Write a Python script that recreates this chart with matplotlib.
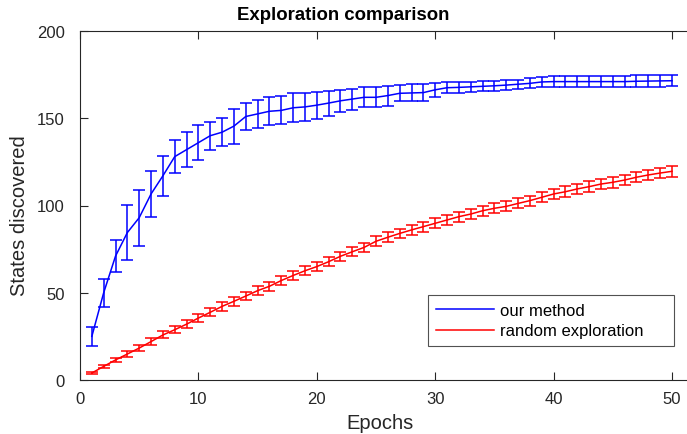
import numpy as np
import matplotlib
matplotlib.use("Agg")
import matplotlib.pyplot as plt
from matplotlib.lines import Line2D

# ── Data ─────────────────────────────────────────────────
epochs = np.arange(1, 51)

ours_mean = [25, 50, 71, 84.5, 93, 106.6, 117, 128, 132, 136,
             140, 142, 145.5, 151, 152.5, 154, 154.5, 156, 156.5, 157.5,
             158.7, 160, 161, 162, 162, 163, 164.3, 164.5, 164.7, 166.3,
             167.5, 167.7, 168, 168.3, 168.6, 169, 169.5, 170, 170.8, 171,
             171, 171, 171, 171, 171, 171, 171.2, 171.3, 171.4, 171.5]
ours_err = [5.3, 8, 9, 16, 16, 13, 11.5, 9.5, 10, 10,
            8, 8, 10, 7.5, 8, 8, 8, 8.3, 8, 7.8,
            7.2, 6.4, 6, 5.7, 5.8, 5.7, 4.7, 4.9, 5.1, 3.9,
            3.2, 3, 2.9, 2.8, 2.7, 2.8, 2.7, 2.9, 3.1, 3.2,
            3.2, 3.2, 3.2, 3.2, 3.2, 3.3, 3.3, 3.3, 3.3, 3.3]

rand_mean = [4, 7.8, 11.5, 14.9, 18.3, 22, 25.8, 28.8, 32, 35.5,
             38.8, 42.2, 45.1, 48.1, 51.2, 53.7, 57, 59.9, 62.6, 65,
             67.8, 70.9, 73.5, 76, 79.5, 81.8, 84, 86, 87.9, 89.8,
             91.7, 93.6, 95.1, 97, 98.4, 99.5, 101.2, 102.8, 104.7, 106.6,
             107.9, 109.5, 110.8, 112.3, 113.3, 114.6, 116.2, 117.5, 118.6, 119.6]
rand_err = [0.6, 1.0, 1.3, 1.5, 1.7, 1.9, 2.0, 2.1, 2.2, 2.3,
            2.4, 2.4, 2.5, 2.5, 2.5, 2.6, 2.6, 2.6, 2.6, 2.7,
            2.7, 2.7, 2.7, 2.7, 2.8, 2.8, 2.8, 2.8, 2.8, 2.8,
            2.8, 2.8, 2.9, 2.9, 2.9, 2.9, 2.9, 2.9, 2.9, 2.9,
            3.0, 3.0, 3.0, 3.0, 3.0, 3.0, 3.0, 3.0, 3.0, 3.0]

series_names = ['our method', 'random exploration']
series_colors = ['#0000ff', '#ff0000']

x_ticks = [0, 10, 20, 30, 40, 50]
y_ticks = [0, 50, 100, 150, 200]

# ── Style ────────────────────────────────────────────────
plt.rcParams['font.family'] = ['Liberation Sans', 'DejaVu Sans']
axis_color = '#262626'
W, H = 687, 435

fig = plt.figure(figsize=(W / 100, H / 100), dpi=100)
x_px_per_unit = 11.84
ax = fig.add_axes([80 / W, 1 - 381 / H, 52 * x_px_per_unit / W, 349 / H])

for mean, err, name, col in zip([ours_mean, rand_mean], [ours_err, rand_err],
                                series_names, series_colors):
    ax.errorbar(epochs, mean, yerr=err, color=col, linewidth=1.1,
                elinewidth=1.1, capsize=4.3, capthick=1.1)

ax.set_xlim(0, 52)
ax.set_ylim(0, 200)
ax.set_xticks(x_ticks)
ax.set_yticks(y_ticks)
ax.tick_params(direction='in', length=6, width=0.8, top=True, right=True,
               labelsize=12, colors=axis_color)
ax.tick_params(axis='x', pad=8)
ax.tick_params(axis='y', pad=11)
for side in ax.spines.values():
    side.set_color(axis_color)
    side.set_linewidth(0.8)

# ── Labels ───────────────────────────────────────────────
fig.text(343 / W, 1 - 16 / H, 'Exploration comparison', fontsize=13.4,
         fontweight='bold', color='black', ha='center', va='center')
fig.text(380 / W, 1 - 424 / H, 'Epochs', fontsize=14.5, color=axis_color,
         ha='center', va='center')
fig.text(20 / W, 1 - 216 / H, 'States discovered', fontsize=14.5,
         color=axis_color, ha='center', va='center', rotation=90)

# ── Legend (plain lines, wide box) ───────────────────────
handles = [Line2D([], [], color=c, linewidth=1.1) for c in series_colors]
leg = ax.legend(handles, series_names, loc='lower left', mode='expand',
                bbox_to_anchor=(428 / W, 1 - 347 / H, 246 / W, 51 / H),
                bbox_transform=fig.transFigure, fontsize=12, frameon=True,
                fancybox=False, handlelength=3.5, borderpad=0.45,
                labelspacing=0.35, handletextpad=0.36, borderaxespad=0)
leg.get_frame().set_edgecolor(axis_color)
leg.get_frame().set_linewidth(0.8)

fig.savefig('out.png', dpi=100)
